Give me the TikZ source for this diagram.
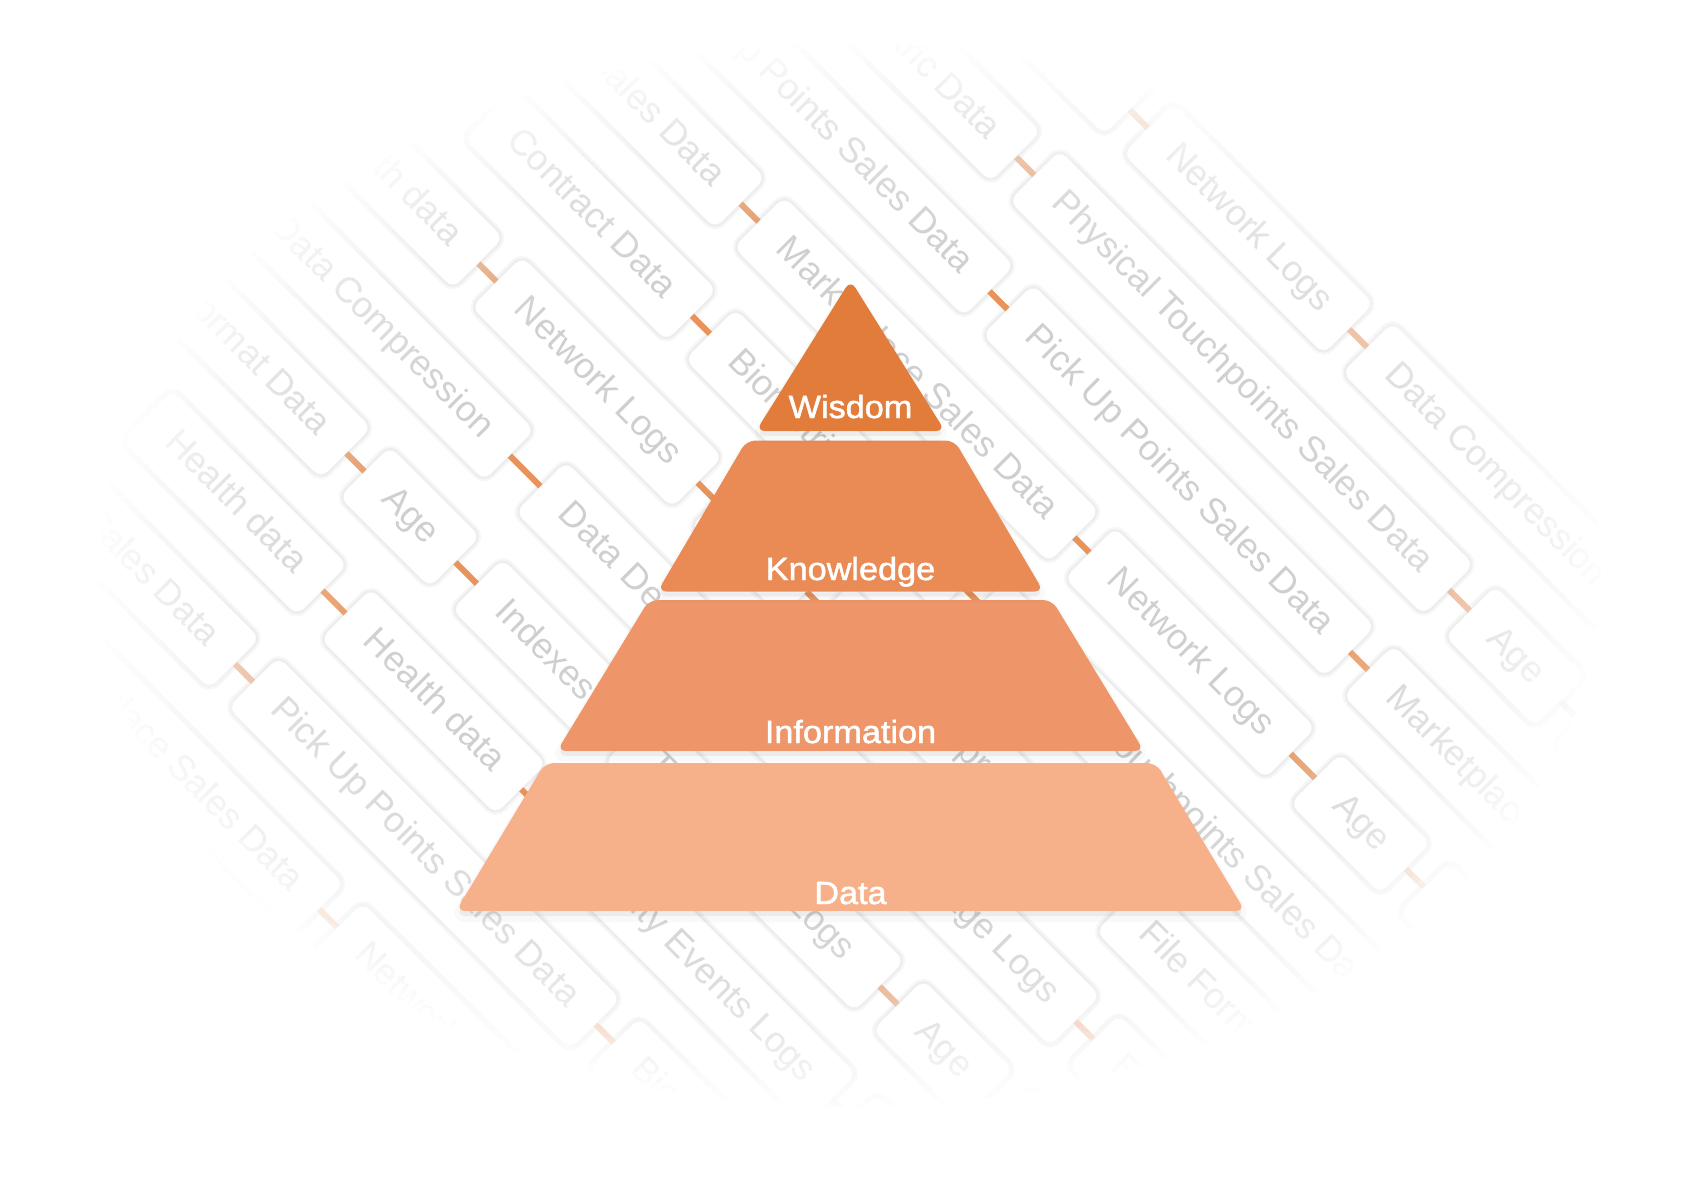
\documentclass[tikz,border=0pt]{standalone}
\usepackage{fontspec}
\setmainfont{Liberation Sans}
\newfontfamily\lblfont[FakeBold=1.5,FakeStretch=1.07]{Liberation Sans}
\definecolor{cardtext}{HTML}{CFCFCF}
\definecolor{linkc}{HTML}{E8935B}
\definecolor{cwis}{HTML}{E27C3B}
\definecolor{ckno}{HTML}{EA8B56}
\definecolor{cinf}{HTML}{EE9669}
\definecolor{cdat}{HTML}{F7B18A}
\newcommand\pyrlevel[2]{%
  \draw[black, opacity=0.025, line width=10pt, rounded corners=9pt, shift={(0,-6)}] #2;
  \fill[black, opacity=0.05, rounded corners=9pt, shift={(0,-5)}] #2;
  \fill[#1, rounded corners=9pt] #2;}
\begin{document}
\begin{tikzpicture}[x=1pt,y=1pt,
  card/.style={transform shape, anchor=west, fill=white, draw=black!6, line width=0.6pt,
    rounded corners=10pt, minimum height=72pt, inner xsep=32pt, inner ysep=0pt,
    text height=26pt, text depth=7.5pt, text=cardtext, font=\fontsize{36}{40}\selectfont,
    preaction={draw=black, draw opacity=0.03, line width=9pt},
    preaction={draw=black, draw opacity=0.04, line width=4.5pt}},
  link/.style={draw=linkc, line width=6pt},
  lbl/.style={text=white, font=\lblfont\fontsize{32}{36}\selectfont, anchor=base, inner sep=0pt}]
\useasboundingbox (0,0) rectangle (1701,-1201);
\fill[white] (0,0) rectangle (1701,-1201);
\clip (0,0) rectangle (1701,-1201);
\begin{scope}[rotate=-45]
 % row 6
 \node[card, minimum width=150pt] (r6a) at (726,721.2) {};
 \node[card] (r6b) at (902,721.2) {Network Logs};
 \node[card] (r6c) at (1212,721.2) {Data Compression};
 % row 5
 \node[card] (r5a) at (529,607.4) {Biometric Data};
 \node[card] (r5b) at (855,607.4) {Physical Touchpoints Sales Data};
 \node[card] (r5c) at (1471,607.4) {Age};
 \node[card, minimum width=200pt] (r5d) at (1625,607.4) {};
 % row 4
 \node[card] (r4a) at (421,493.6) {Pick Up Points Sales Data};
 \node[card] (r4b) at (931,493.6) {Pick Up Points Sales Data};
 \node[card] (r4c) at (1441,493.6) {Marketplace Sales Data};
 % row 3
 \node[card] (r3a) at (427,379.7) {Sales Data};
 \node[card] (r3b) at (693,379.7) {Marketplace Sales Data};
 \node[card] (r3c) at (1161,379.7) {Network Logs};
 \node[card] (r3d) at (1480,379.7) {Age};
 \node[card, minimum width=200pt] (r3e) at (1634,379.7) {};
 % row 2
 \node[card] (r2a) at (426,265.9) {Contract Data};
 \node[card, text width=293pt, align=left] (r2b) at (738,265.9) {Biometric data};
 \node[card] (r2c) at (1121,265.9) {Physical Touchpoints Sales Data};
 % row 1
 \node[card] (r1a) at (276,152) {Health data};
 \node[card] (r1b) at (550,152) {Network Logs};
 \node[card] (r1c) at (860,152) {Age};
 \node[card] (r1d) at (1014,152) {Data Compression};
 \node[card] (r1e) at (1433,152) {File Format};
 % row 0
 \node[card] (r0a) at (320,38.2) {Data Compression};
 \node[card, text width=388pt, align=left] (r0b) at (726,38.2) {Data Deduplication};
 \node[card] (r0c) at (1204,38.2) {Storage Logs};
 \node[card] (r0d) at (1508,38.2) {Error Logs};
 % row -1
 \node[card] (n1a) at (301,-75.6) {Format Data};
 \node[card] (n1b) at (591,-75.6) {Age};
 \node[card] (n1c) at (750,-75.6) {Indexes};
 \node[card, text width=289pt, align=left] (n1d) at (966,-75.6) {Transaction Logs};
 \node[card] (n1e) at (1345,-75.6) {Age};
 \node[card, minimum width=200pt] (n1f) at (1499,-75.6) {};
 % row -2
 \node[card] (n2a) at (397,-189.5) {Health data};
 \node[card] (n2b) at (678,-189.5) {Health data};
 \node[card] (n2c) at (963,-189.5) {Security Events Logs};
 \node[card, minimum width=200pt] (n2d) at (1393,-189.5) {};
 % row -3
 \node[card] (n3a) at (395,-303.3) {Sales Data};
 \node[card] (n3b) at (661,-303.3) {Pick Up Points Sales Data};
 \node[card] (n3c) at (1171,-303.3) {Biometric Data};
 % row -4
 \node[card] (n4a) at (422,-417.2) {Marketplace Sales Data};
 \node[card] (n4b) at (894,-417.2) {Network Logs};
 % connectors
 \foreach \a/\b in {r6a/r6b, r6b/r6c, r5a/r5b, r5b/r5c, r5c/r5d, r4a/r4b, r4b/r4c,
   r3a/r3b, r3b/r3c, r3c/r3d, r3d/r3e, r2a/r2b, r2b/r2c, r1a/r1b, r1b/r1c, r1c/r1d, r1d/r1e,
   r0a/r0b, r0b/r0c, r0c/r0d, n1a/n1b, n1b/n1c, n1c/n1d, n1d/n1e, n1e/n1f,
   n2a/n2b, n2b/n2c, n2c/n2d, n3a/n3b, n3b/n3c, n4a/n4b}
   \draw[link] (\a.east) -- (\b.west);
\end{scope}
% fade of the background cards towards the edges (stacked white layers outside ellipses)
\foreach \k in {1,...,32}{
  \pgfmathsetmacro\rr{0.58+0.37*\k/32}
  \pgfmathsetmacro\aa{1/(33-\k)}
  \fill[white, fill opacity=\aa, even odd rule] (-20,20) rectangle (1721,-1221)
    (850,-575) ellipse [x radius={790*\rr}, y radius={560*\rr}];
}
% pyramid
\pyrlevel{cdat}{(545,-763) -- (1156,-763) -- (1245,-911) -- (456,-911) -- cycle}
\pyrlevel{cinf}{(649,-600) -- (1052,-600) -- (1144,-751) -- (557,-751) -- cycle}
\pyrlevel{ckno}{(746.5,-440.5) -- (954.5,-440.5) -- (1043.5,-591.5) -- (657.5,-591.5) -- cycle}
\pyrlevel{cwis}{(850.5,-280) -- (945,-431) -- (756,-431) -- cycle}
\node[lbl] (wisdom) at (850.5,-418) {Wisdom};
\node[lbl] (knowledge) at (850.5,-580) {Knowledge};
\node[lbl] (information) at (850.5,-743) {Information};
\node[lbl] (data) at (850.5,-904) {Data};
\end{tikzpicture}
\end{document}
